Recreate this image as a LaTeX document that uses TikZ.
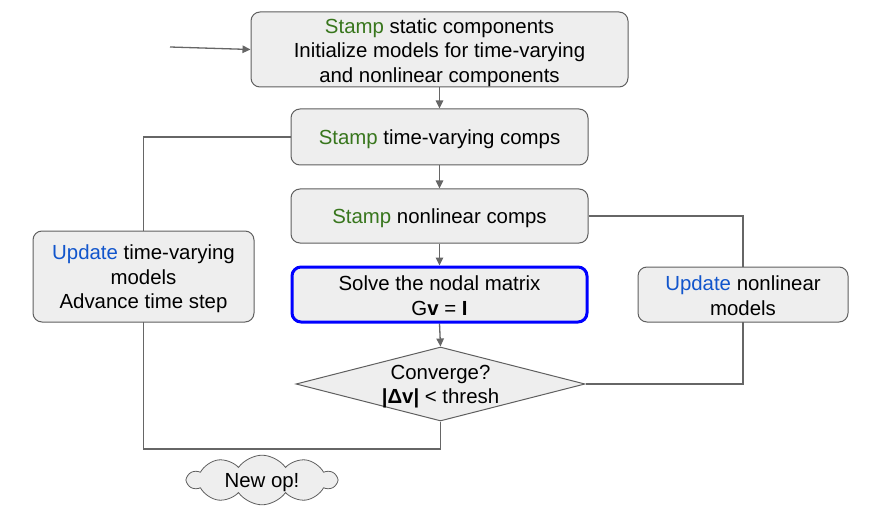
\documentclass[tikz,border=0pt]{standalone}
\usepackage{fontspec}
\setmainfont{Liberation Sans}
\usetikzlibrary{shapes.geometric,shapes.symbols,arrows.meta,backgrounds}
\definecolor{boxfill}{HTML}{EEEEEE}
\definecolor{boxline}{HTML}{5F5F5F}
\definecolor{conn}{HTML}{666666}
\definecolor{stampgreen}{HTML}{38761D}
\definecolor{updblue}{HTML}{1155CC}
\definecolor{solveblue}{HTML}{0000FF}
\newcommand{\stampw}{\textcolor{stampgreen}{Stamp}}
\newcommand{\updw}{\textcolor{updblue}{Update}}
\tikzset{
  lowtext/.style={execute at begin node={\rule{0pt}{#1}}},
  lowtext/.default=20pt,
  box/.style={draw=boxline, fill=boxfill, line width=1pt, rounded corners=9pt,
    align=center, inner sep=0pt, font=\fontsize{20.4}{24.5}\selectfont, lowtext},
  solvebox/.style={box, draw=solveblue, line width=3pt},
  decision/.style={draw=boxline, fill=boxfill, line width=1pt, diamond, inner sep=0pt},
  txt/.style={align=center, inner sep=0pt, font=\fontsize{20.4}{24.5}\selectfont, lowtext},
  thought/.style={draw=boxline, fill=boxfill, line width=0.8pt, cloud, cloud puffs=10,
    cloud puff arc=110, cloud ignores aspect, inner sep=0pt,
    font=\fontsize{20.4}{24.5}\selectfont, lowtext},
  conline/.style={draw=conn, line width=1.3pt},
  arr/.style={conline, -{Triangle[length=8pt,width=7.5pt]}},
}
\begin{document}
\begin{tikzpicture}[x=1pt,y=-1pt]
\useasboundingbox (0,0) rectangle (880,513);
\node[box, lowtext=70pt, minimum width=377pt, minimum height=75pt] (top) at (439.5,49.5)
  {\stampw{} static components\\Initialize models for time-varying\\and nonlinear components};
\node[box, minimum width=297pt, minimum height=56pt] (tv) at (439.5,137)
  {\stampw{} time-varying comps};
\node[box, minimum width=297pt, minimum height=54pt] (nl) at (439.5,216)
  {\stampw{} nonlinear comps};
\node[solvebox, lowtext=41.5pt, minimum width=295pt, minimum height=55pt] (solve) at (439.5,294.5)
  {Solve the nodal matrix\\G\textbf{v} = \textbf{I}};
\node[decision, minimum width=289pt, minimum height=74pt] (conv) at (440.5,384) {};
\node[txt, lowtext=43.5pt] (convtxt) at (440.5,384.5) {Converge?\\\textbf{|Δv|} < thresh};
\node[box, lowtext=69pt, minimum width=221pt, minimum height=91pt] (upd1) at (143.5,276.5)
  {\updw{} time-varying\\models\\Advance time step};
\node[box, lowtext=41.5pt, minimum width=210pt, minimum height=55pt] (upd2) at (743,294.5)
  {\updw{} nonlinear\\models};
\node[thought, minimum width=149pt, minimum height=38pt] (newop) at (262,480) {New op!};
\coordinate (in) at (170,47);
\coordinate (bl) at (143.5,449);
\coordinate (br) at (743,384);
\begin{pgfonlayer}{background}
\draw[arr] (in) -- (top.west);
\draw[arr] (top.south) -- (tv.north);
\draw[arr] (tv.south) -- (nl.north);
\draw[arr] (nl.south) -- (solve.north);
\draw[arr] (solve.south) -- (conv.north);
\draw[conline] (conv.south) |- (bl) |- (tv.west);
\draw[conline] (nl.east) -| (br) -- (conv.east);
\end{pgfonlayer}
\end{tikzpicture}
\end{document}
